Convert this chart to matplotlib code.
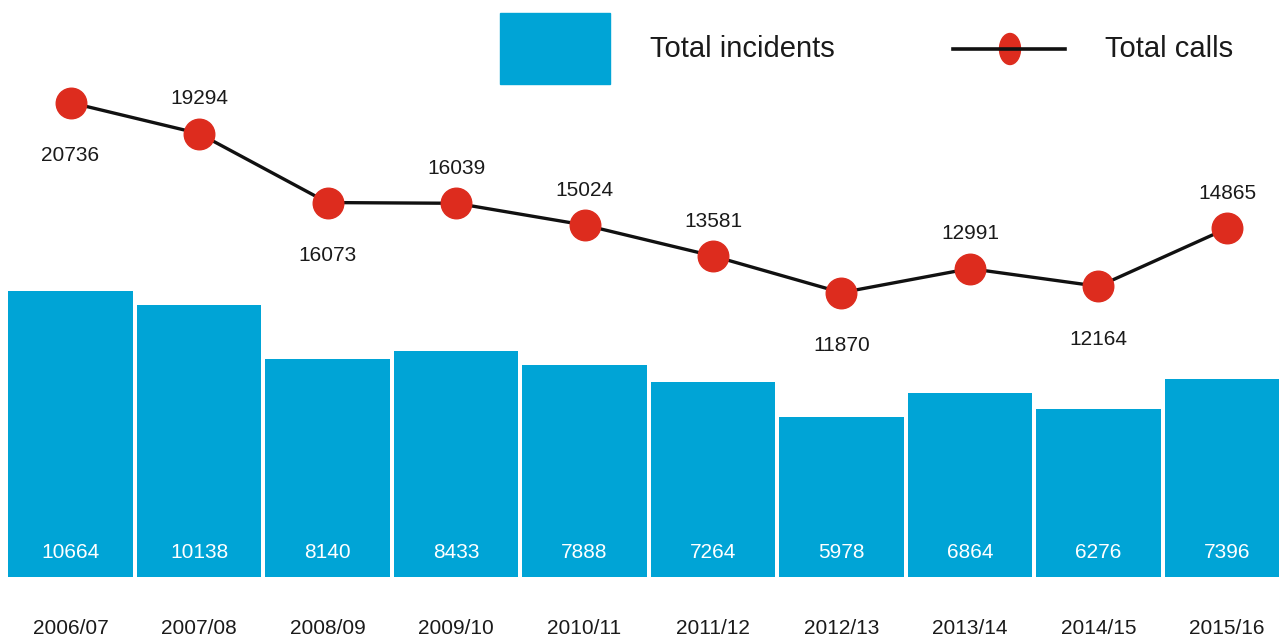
import matplotlib
matplotlib.use("Agg")
import matplotlib.pyplot as plt
from matplotlib.patches import Rectangle, Ellipse
from matplotlib.lines import Line2D

categories = ["2006/07", "2007/08", "2008/09", "2009/10", "2010/11",
              "2011/12", "2012/13", "2013/14", "2014/15", "2015/16"]
incidents = [10664, 10138, 8140, 8433, 7888, 7264, 5978, 6864, 6276, 7396]
calls = [20736, 19294, 16073, 16039, 15024, 13581, 11870, 12991, 12164, 14865]
call_label_side = ["below", "above", "below", "above", "above",
                   "above", "below", "above", "below", "above"]

BLUE = "#00a4d6"
RED = "#dd2c1e"
FONT = ["Liberation Sans", "DejaVu Sans"]
NARROW = ["Liberation Sans Narrow", "Liberation Sans", "DejaVu Sans"]

W, H = 1279, 636
fig = plt.figure(figsize=(W / 100, H / 100), dpi=100)
ax = fig.add_axes([0, 59 / H, 1, 1 - 59 / H])
x = list(range(len(categories)))

ax.bar(x, incidents, width=0.972, color=BLUE, zorder=1)
ax.set_xlim(-0.549, 9.405)
ax.set_ylim(0, 21510)
for xi, v in zip(x, incidents):
    ax.text(xi, 900, f"{v}", color="white", ha="center", va="center",
            fontsize=15, family=FONT)

ax.set_xticks(x)
ax.set_xticklabels(categories, fontsize=15, family=FONT, color="#1a1a1a")
ax.tick_params(axis="x", length=0, pad=30)
ax.set_yticks([])
for s in ax.spines.values():
    s.set_visible(False)

ax2 = ax.twinx()
ax2.set_position(ax.get_position())
ax2.set_ylim(-1400, 25525)
ax2.plot(x, calls, color="#111111", lw=2.4, marker="o", markersize=22,
         markerfacecolor=RED, markeredgecolor=RED, zorder=3)
for xi, v, side in zip(x, calls, call_label_side):
    dy = 25 if side == "above" else -38
    ax2.annotate(f"{v}", (xi, v), xytext=(0, dy), textcoords="offset points",
                 ha="center", va="center", fontsize=15, family=FONT,
                 color="#1a1a1a")
ax2.set_yticks([])
for s in ax2.spines.values():
    s.set_visible(False)

# legend (drawn in figure pixel coordinates)
def fx(px):
    return px / W

def fy(py):
    return 1 - py / H

fig.add_artist(Rectangle((fx(500), fy(84)), fx(110), 71 / H,
                         transform=fig.transFigure, color=BLUE))
fig.text(fx(650), fy(49), "Total incidents", ha="left", va="center",
         fontsize=21, family=NARROW, color="#1a1a1a")
fig.add_artist(Line2D([fx(953), fx(1065)], [fy(49), fy(49)],
                      transform=fig.transFigure, color="#111111", lw=2.6))
fig.add_artist(Ellipse((fx(1010), fy(49)), fx(21), 31 / H,
                       transform=fig.transFigure, color=RED))
fig.text(fx(1105), fy(49), "Total calls", ha="left", va="center",
         fontsize=21, family=NARROW, color="#1a1a1a")

fig.savefig("out.png", dpi=100)
